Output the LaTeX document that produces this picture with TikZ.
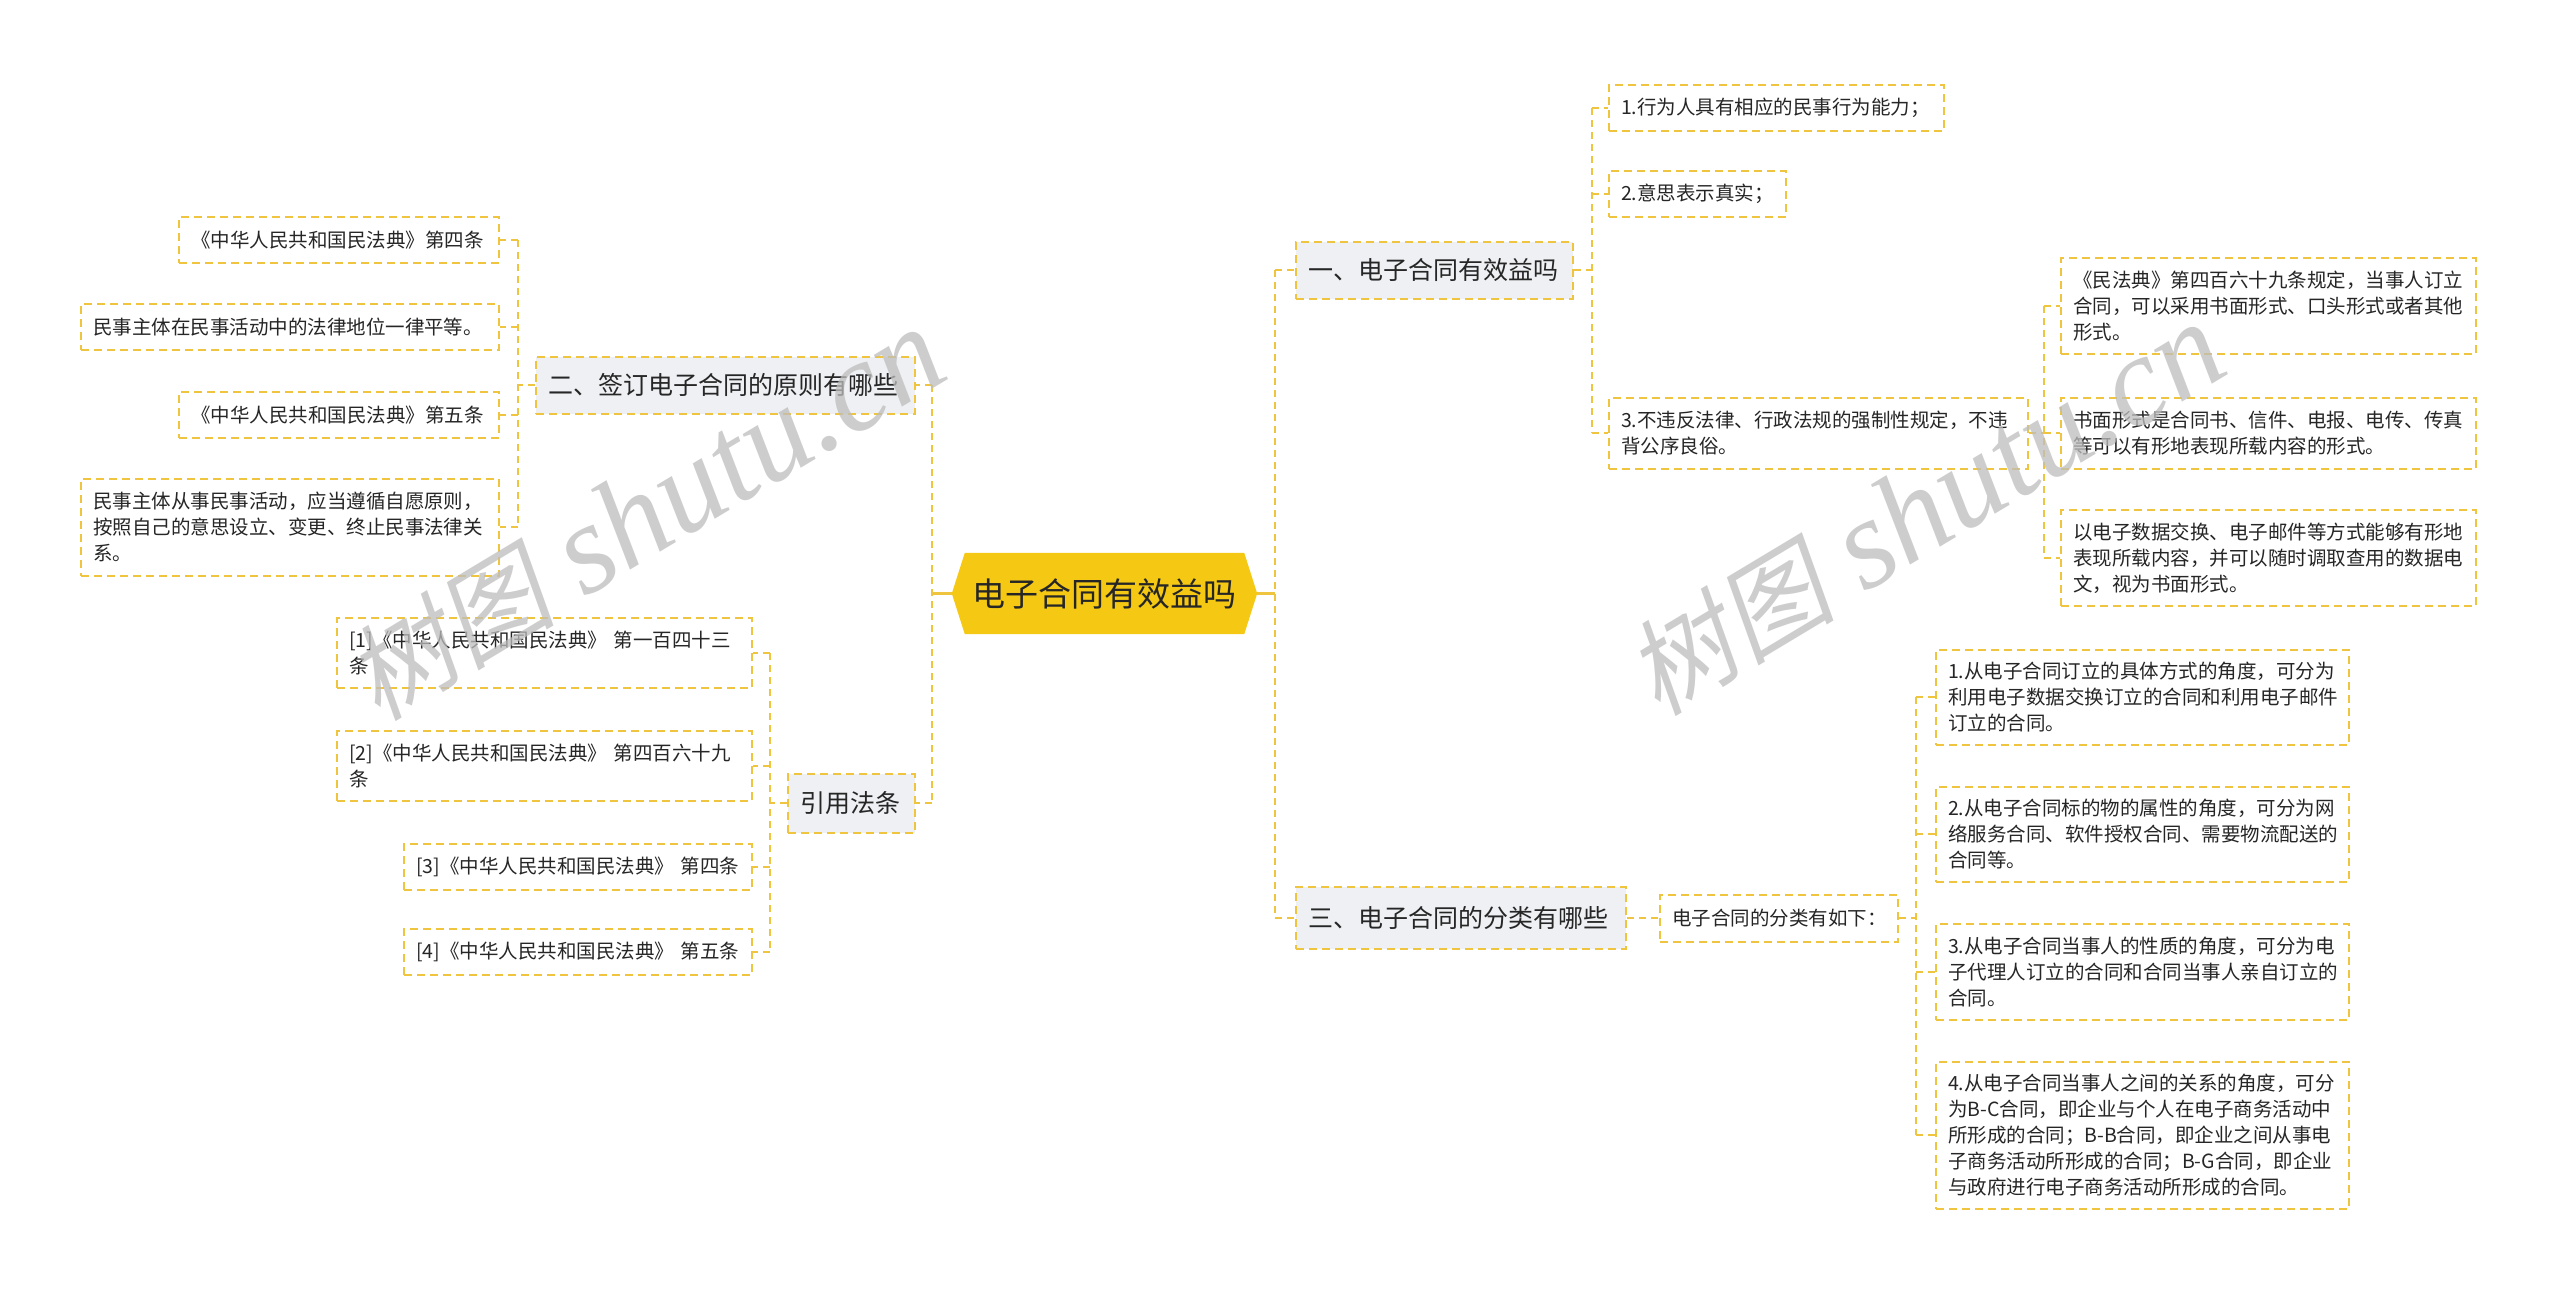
\documentclass[tikz,border=0pt]{standalone}
\usepackage{fontspec}
\setmainfont{Noto Sans CJK SC}
\newfontfamily\wmcjk[FakeSlant=0.2]{Noto Sans CJK SC}
\newfontfamily\wmlat{Liberation Serif}
\usetikzlibrary{backgrounds}
\definecolor{lineY}{HTML}{EFC53F}
\definecolor{rootY}{HTML}{F5C913}
\definecolor{topicG}{HTML}{EEF0F3}
\definecolor{txt}{HTML}{262626}
\definecolor{wmgray}{HTML}{BDBDBD}
\begin{document}
\begin{tikzpicture}[x=1pt,y=-1pt,
  conn/.style={draw=lineY, line width=2.2pt, dash pattern=on 7pt off 5pt},
  solidconn/.style={draw=lineY, line width=2.4pt},
  box/.style={draw=lineY, line width=2pt, dash pattern=on 8pt off 5pt, fill=white,
    inner xsep=12pt, inner ysep=4pt, align=left, text=txt,
    font=\fontsize{19.5}{26}\selectfont},
  topic/.style={box, fill=topicG, font=\fontsize{25}{30}\selectfont},
  wm/.style={rotate=31, text=wmgray, opacity=0.75, inner sep=0pt}
]
\begin{scope}[on background layer]
\fill[white] (0,0) rectangle (2560,1294);
\end{scope}
\useasboundingbox (0,0) rectangle (2560,1294);

% root
\node[minimum width=305pt, minimum height=81pt, inner sep=0pt, text=txt,
  font=\fontsize{33}{36}\selectfont] (root) at (1104.5,593.5) {电子合同有效益吗};
\begin{scope}[on background layer]
\fill[rootY] (root.west) -- ([xshift=13pt]root.north west) -- ([xshift=-13pt]root.north east)
  -- (root.east) -- ([xshift=-13pt]root.south east) -- ([xshift=13pt]root.south west) -- cycle;
\end{scope}

% right branch 1
\node[topic, anchor=west, text width=253pt, minimum height=57pt] (R1) at (1295,270) {一、电子合同有效益吗};
\node[box, anchor=west, text width=311pt, minimum height=46pt] (R1a) at (1608,108) {1.行为人具有相应的民事行为能力；};
\node[box, anchor=west, text width=153pt, minimum height=46pt] (R1b) at (1608,194) {2.意思表示真实；};
\node[box, anchor=west, text width=395pt, minimum height=71pt] (R1c) at (1608,433) {3.不违反法律、行政法规的强制性规定，不违\\背公序良俗。};
\node[box, anchor=west, text width=391pt, minimum height=96pt] (R1c1) at (2060,306) {《民法典》第四百六十九条规定，当事人订立\\合同，可以采用书面形式、口头形式或者其他\\形式。};
\node[box, anchor=west, text width=391pt, minimum height=71pt] (R1c2) at (2060,433) {书面形式是合同书、信件、电报、电传、传真\\等可以有形地表现所载内容的形式。};
\node[box, anchor=west, text width=391pt, minimum height=96pt] (R1c3) at (2060,558) {以电子数据交换、电子邮件等方式能够有形地\\表现所载内容，并可以随时调取查用的数据电\\文，视为书面形式。};

% right branch 3
\node[topic, anchor=west, text width=306pt, minimum height=62pt] (R3) at (1295,918) {三、电子合同的分类有哪些};
\node[box, anchor=west, text width=214pt, minimum height=47pt] (R3a) at (1659,918) {电子合同的分类有如下：};
\node[box, anchor=west, text width=389pt, minimum height=95pt] (C1) at (1935,697) {1.从电子合同订立的具体方式的角度，可分为\\利用电子数据交换订立的合同和利用电子邮件\\订立的合同。};
\node[box, anchor=west, text width=389pt, minimum height=95pt] (C2) at (1935,834) {2.从电子合同标的物的属性的角度，可分为网\\络服务合同、软件授权合同、需要物流配送的\\合同等。};
\node[box, anchor=west, text width=389pt, minimum height=96pt] (C3) at (1935,972) {3.从电子合同当事人的性质的角度，可分为电\\子代理人订立的合同和合同当事人亲自订立的\\合同。};
\node[box, anchor=west, text width=389pt, minimum height=147pt] (C4) at (1935,1135) {4.从电子合同当事人之间的关系的角度，可分\\为B-C合同，即企业与个人在电子商务活动中\\所形成的合同；B-B合同，即企业之间从事电\\子商务活动所形成的合同；B-G合同，即企业\\与政府进行电子商务活动所形成的合同。};

% left branch 2
\node[topic, anchor=east, text width=355pt, minimum height=57pt] (L1) at (916,385) {二、签订电子合同的原则有哪些};
\node[box, anchor=east, text width=296pt, minimum height=46pt] (L1a) at (500,240) {《中华人民共和国民法典》第四条};
\node[box, anchor=east, text width=394pt, minimum height=46pt] (L1b) at (500,327) {民事主体在民事活动中的法律地位一律平等。};
\node[box, anchor=east, text width=296pt, minimum height=46pt] (L1c) at (500,415) {《中华人民共和国民法典》第五条};
\node[box, anchor=east, text width=394pt, minimum height=97pt] (L1d) at (500,527) {民事主体从事民事活动，应当遵循自愿原则，\\按照自己的意思设立、变更、终止民事法律关\\系。};

% left citations
\node[topic, anchor=east, text width=103pt, minimum height=59pt] (L2) at (916,803) {引用法条};
\node[box, anchor=east, text width=391pt, minimum height=70pt] (L2a) at (753,653) {[1]《中华人民共和国民法典》~第一百四十三\\条};
\node[box, anchor=east, text width=391pt, minimum height=70pt] (L2b) at (753,766) {[2]《中华人民共和国民法典》~第四百六十九\\条};
\node[box, anchor=east, text width=324pt, minimum height=46pt] (L2c) at (753,867) {[3]《中华人民共和国民法典》~第四条};
\node[box, anchor=east, text width=324pt, minimum height=46pt] (L2d) at (753,952) {[4]《中华人民共和国民法典》~第五条};

% spine coordinates
\coordinate (sR) at (1275,0);
\coordinate (sL) at (932,0);
\coordinate (s1) at (1592,0);
\coordinate (s1c) at (2044,0);
\coordinate (s3) at (1916,0);
\coordinate (sL1) at (518,0);
\coordinate (sL2) at (770,0);

% root right
\draw[solidconn] (root.east) -- (root.east -| sR);
\draw[conn] (R1.west -| sR) -- (R3.west -| sR);
\draw[conn] (R1.west -| sR) -- (R1.west);
\draw[conn] (R3.west -| sR) -- (R3.west);
% root left
\draw[solidconn] (root.west) -- (root.west -| sL);
\draw[conn] (L1.east -| sL) -- (L2.east -| sL);
\draw[conn] (L1.east -| sL) -- (L1.east);
\draw[conn] (L2.east -| sL) -- (L2.east);
% R1
\draw[conn] (R1.east) -- (R1.east -| s1);
\draw[conn] (R1a.west -| s1) -- (R1c.west -| s1);
\foreach \n in {R1a,R1b,R1c} \draw[conn] (\n.west -| s1) -- (\n.west);
% R1c
\draw[conn] (R1c.east) -- (R1c.east -| s1c);
\draw[conn] (R1c1.west -| s1c) -- (R1c3.west -| s1c);
\foreach \n in {R1c1,R1c2,R1c3} \draw[conn] (\n.west -| s1c) -- (\n.west);
% R3
\draw[conn] (R3.east) -- (R3a.west);
\draw[conn] (R3a.east) -- (R3a.east -| s3);
\draw[conn] (C1.west -| s3) -- (C4.west -| s3);
\foreach \n in {C1,C2,C3,C4} \draw[conn] (\n.west -| s3) -- (\n.west);
% L1
\draw[conn] (L1.west) -- (L1.west -| sL1);
\draw[conn] (L1a.east -| sL1) -- (L1d.east -| sL1);
\foreach \n in {L1a,L1b,L1c,L1d} \draw[conn] (\n.east -| sL1) -- (\n.east);
% L2
\draw[conn] (L2.west) -- (L2.west -| sL2);
\draw[conn] (L2a.east -| sL2) -- (L2d.east -| sL2);
\foreach \n in {L2a,L2b,L2c,L2d} \draw[conn] (\n.east -| sL2) -- (\n.east);

% watermarks
\node[wm] (wm1) at (645,515) {\wmcjk\fontsize{105}{105}\selectfont 树图\hspace{30pt}{\wmlat\itshape\fontsize{128}{128}\selectfont shutu.cn}};
\node[wm] (wm2) at (1925,510) {\wmcjk\fontsize{105}{105}\selectfont 树图\hspace{30pt}{\wmlat\itshape\fontsize{128}{128}\selectfont shutu.cn}};
\end{tikzpicture}
\end{document}
